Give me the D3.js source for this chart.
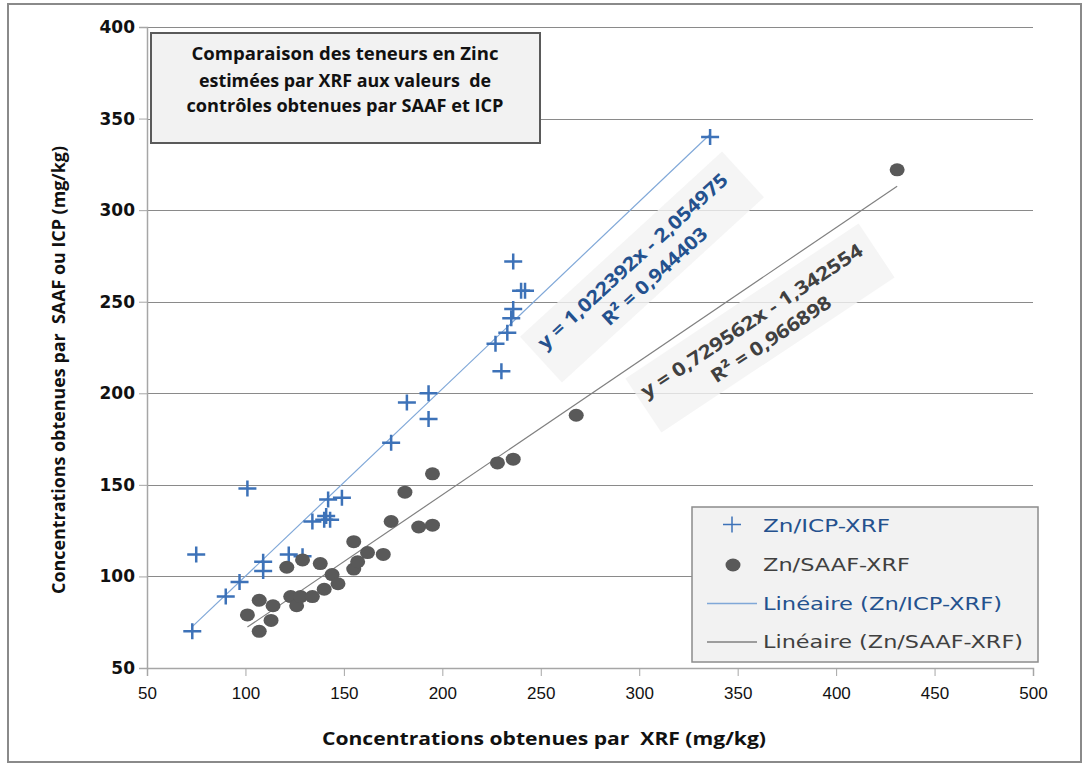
<!DOCTYPE html>
<html>
<head>
<meta charset="utf-8">
<script src="https://cdn.jsdelivr.net/npm/d3@7"></script>
<style>
  html, body { margin: 0; padding: 0; background: #ffffff; }
  svg { display: block; }
  text { white-space: pre; }
</style>
</head>
<body>
<svg id="chart" width="1085" height="766"></svg>
<script>
// ---------------- DATA ----------------
const xTickValues = [50, 100, 150, 200, 250, 300, 350, 400, 450, 500];
const yTickValues = [50, 100, 150, 200, 250, 300, 350, 400];

const icpX = [73, 75, 90, 97, 101, 109, 109, 122, 129, 134, 140, 141, 143, 142, 149, 174, 182, 193, 193, 227, 230, 233, 235, 236, 236, 240, 242, 336];
const icpY = [70, 112, 89, 97, 148, 108, 103, 112, 111, 130, 131, 133, 131, 142, 143, 173, 195, 200, 186, 227, 212, 233, 241, 246, 272, 256, 256, 340];

const saafX = [101, 107, 107, 113, 114, 121, 123, 126, 128, 129, 134, 138, 140, 144, 147, 155, 157, 155, 162, 170, 174, 181, 188, 195, 195, 228, 236, 268, 431];
const saafY = [79, 87, 70, 76, 84, 105, 89, 84, 89, 109, 89, 107, 93, 101, 96, 104, 108, 119, 113, 112, 130, 146, 127, 128, 156, 162, 164, 188, 322];

const icpFit = { slope: 1.022392, intercept: -2.054975, r2: "0,944403", eq: "y = 1,022392x - 2,054975" };
const saafFit = { slope: 0.729562, intercept: -1.342554, r2: "0,966898", eq: "y = 0,729562x - 1,342554" };

const titleLines = ["Comparaison des teneurs en Zinc", "estimées par XRF aux valeurs  de", "contrôles obtenues par SAAF et ICP"];
const legendLabels = ["Zn/ICP-XRF", "Zn/SAAF-XRF", "Linéaire (Zn/ICP-XRF)", "Linéaire (Zn/SAAF-XRF)"];
const xAxisTitle = "Concentrations obtenues par  XRF (mg/kg)";
const yAxisTitle = "Concentrations obtenues par  SAAF ou ICP (mg/kg)";

// ---------------- SETUP ----------------
const svg = d3.select("#chart");
const BLUE = "#3d72b8", BLUE_LINE = "#80a8d8", BLUE_TEXT = "#24518e";
const GREY_DOT = "#595959", GREY_LINE = "#808080", GREY_TEXT = "#404040";

const x = d3.scaleLinear().domain([50, 500]).range([147, 1033]);
const y = d3.scaleLinear().domain([50, 400]).range([668, 27]);

// outer border
svg.append("rect").attr("x", 8).attr("y", 4).attr("width", 1073).attr("height", 758)
  .attr("fill", "#fff").attr("stroke", "#8a8a8a").attr("stroke-width", 2);

// gridlines
svg.append("g").selectAll("line").data(yTickValues.filter(d => d > 50)).join("line")
  .attr("x1", x(50)).attr("x2", x(500))
  .attr("y1", d => Math.round(y(d)) + 0.5).attr("y2", d => Math.round(y(d)) + 0.5)
  .attr("stroke", "#8a8a8a").attr("stroke-width", 1.2);

// axes
const xAxis = d3.axisBottom(x).tickValues(xTickValues).tickSize(8).tickPadding(8).tickFormat(d3.format("d"));
const gx = svg.append("g").attr("transform", `translate(0,${y(50)})`).call(xAxis);
gx.select(".domain").attr("stroke", "#a6a6a6").attr("stroke-width", 1.5);
gx.selectAll(".tick line").attr("stroke", "#a6a6a6");
gx.selectAll(".tick text").attr("font-family", "Liberation Sans, Arial, sans-serif")
  .attr("font-size", 17).attr("fill", "#111").attr("dy", "0.9em");

const yAxis = d3.axisLeft(y).tickValues(yTickValues).tickSize(8).tickPadding(4).tickFormat(d3.format("d"));
const gy = svg.append("g").attr("transform", `translate(${x(50)},0)`).call(yAxis);
gy.select(".domain").attr("stroke", "#a6a6a6").attr("stroke-width", 1.5);
gy.selectAll(".tick line").attr("stroke", "#a6a6a6");
gy.selectAll(".tick text").attr("font-family", "DejaVu Sans, Verdana, sans-serif")
  .attr("font-weight", "bold").attr("font-size", 17).attr("fill", "#111");

// axis titles
svg.append("text").attr("x", 544).attr("y", 745).attr("text-anchor", "middle")
  .attr("font-family", "Open Sans, sans-serif").attr("font-weight", "bold").attr("font-size", 18)
  .attr("textLength", 444).attr("lengthAdjust", "spacingAndGlyphs").attr("fill", "#111")
  .text(xAxisTitle);
svg.append("text").attr("transform", "translate(65,370) rotate(-90)").attr("text-anchor", "middle")
  .attr("font-family", "Open Sans, sans-serif").attr("font-weight", "bold").attr("font-size", 18)
  .attr("textLength", 448).attr("lengthAdjust", "spacingAndGlyphs").attr("fill", "#111")
  .text(yAxisTitle);

// title box
svg.append("rect").attr("x", 151).attr("y", 33).attr("width", 389).attr("height", 110)
  .attr("fill", "#f2f2f2").attr("stroke", "#5a5a5a").attr("stroke-width", 2);
const titleLens = [307, 292, 317];
const titleBase = [60, 86.5, 112];
titleLines.forEach((t, i) => {
  svg.append("text").attr("x", 345).attr("y", titleBase[i]).attr("text-anchor", "middle")
    .attr("font-family", "Open Sans, sans-serif").attr("font-weight", "bold").attr("font-size", 18)
    .attr("textLength", titleLens[i]).attr("lengthAdjust", "spacingAndGlyphs").attr("fill", "#111")
    .text(t);
});

// trend lines
function trend(fit, xs) {
  const [x0, x1] = d3.extent(xs);
  return [[x0, fit.slope * x0 + fit.intercept], [x1, fit.slope * x1 + fit.intercept]];
}
const lineGen = d3.line().x(d => x(d[0])).y(d => y(d[1]));
svg.append("path").attr("d", lineGen(trend(icpFit, icpX))).attr("stroke", BLUE_LINE).attr("stroke-width", 1.2).attr("fill", "none");
svg.append("path").attr("d", lineGen(trend(saafFit, saafX))).attr("stroke", GREY_LINE).attr("stroke-width", 1.2).attr("fill", "none");

// markers
const plusPath = "M-9,0H9M0,-8V8";
svg.append("g").selectAll("path").data(icpX.map((v, i) => [v, icpY[i]])).join("path")
  .attr("transform", d => `translate(${x(d[0])},${y(d[1])})`)
  .attr("d", plusPath).attr("stroke", BLUE).attr("stroke-width", 2.5).attr("fill", "none");
svg.append("g").selectAll("ellipse").data(saafX.map((v, i) => [v, saafY[i]])).join("ellipse")
  .attr("cx", d => x(d[0])).attr("cy", d => y(d[1])).attr("rx", 7.5).attr("ry", 6.5)
  .attr("fill", GREY_DOT);

// equation labels
function eqLabel(cx, cy, angle, boxLen, boxW, fit, color, len1, len2) {
  const g = svg.append("g").attr("transform", `translate(${cx},${cy}) rotate(${angle})`);
  g.append("rect").attr("x", -boxLen / 2).attr("y", -boxW / 2).attr("width", boxLen).attr("height", boxW)
    .attr("fill", "#f3f3f3").attr("opacity", 0.8);
  g.append("text").attr("x", -3).attr("y", -4).attr("text-anchor", "middle")
    .attr("font-family", "Open Sans, sans-serif").attr("font-weight", "bold").attr("font-size", 19)
    .attr("textLength", len1).attr("lengthAdjust", "spacingAndGlyphs").attr("fill", color).text(fit.eq);
  g.append("text").attr("x", 3).attr("y", 22).attr("text-anchor", "middle")
    .attr("font-family", "Open Sans, sans-serif").attr("font-weight", "bold").attr("font-size", 19)
    .attr("textLength", len2).attr("lengthAdjust", "spacingAndGlyphs").attr("fill", color).text("R² = " + fit.r2);
}
eqLabel(642, 267, -42.5, 274, 62, icpFit, BLUE_TEXT, 250, 135);
eqLabel(760, 328, -33.6, 280, 65, saafFit, GREY_TEXT, 262, 140);

// legend
svg.append("rect").attr("x", 692).attr("y", 507).attr("width", 346).attr("height", 155)
  .attr("fill", "#f2f2f2").attr("stroke", "#8c8c8c").attr("stroke-width", 1.5);
const legBase = [531.5, 571, 609.5, 648];
const legLens = [127, 147, 239, 260];
const legColors = [BLUE_TEXT, GREY_TEXT, BLUE_TEXT, GREY_TEXT];
legendLabels.forEach((t, i) => {
  svg.append("text").attr("x", 763).attr("y", legBase[i])
    .attr("font-family", "DejaVu Sans, Verdana, sans-serif").attr("font-size", 17)
    .attr("textLength", legLens[i]).attr("lengthAdjust", "spacingAndGlyphs")
    .attr("fill", legColors[i]).text(t);
});
svg.append("path").attr("transform", `translate(732,${legBase[0] - 7})`).attr("d", plusPath)
  .attr("stroke", BLUE).attr("stroke-width", 1.5).attr("fill", "none");
svg.append("ellipse").attr("cx", 733).attr("cy", legBase[1] - 6).attr("rx", 7.5).attr("ry", 6.5).attr("fill", GREY_DOT);
svg.append("line").attr("x1", 707).attr("x2", 757).attr("y1", legBase[2] - 6).attr("y2", legBase[2] - 6)
  .attr("stroke", BLUE_LINE).attr("stroke-width", 1.5);
svg.append("line").attr("x1", 707).attr("x2", 757).attr("y1", legBase[3] - 6).attr("y2", legBase[3] - 6)
  .attr("stroke", GREY_LINE).attr("stroke-width", 1.5);
</script>
</body>
</html>
